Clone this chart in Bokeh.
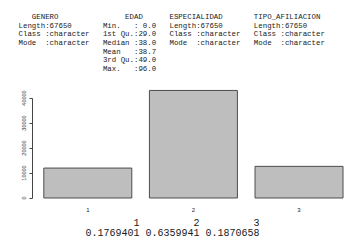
from bokeh.plotting import figure
from bokeh.models import Label, FixedTicker, Range1d, LinearAxis
from bokeh.embed import file_html
from bokeh.resources import INLINE
from bokeh.core.properties import value

# ---------------- data ----------------
categories = ["1", "2", "3"]
counts = [11970, 43025, 12655]
n_total = 67650
columns = ["GENERO", "EDAD", "ESPECIALIDAD", "TIPO_AFILIACION"]
char_labels = ["Length", "Class", "Mode"]
char_values = [str(n_total), "character", "character"]
edad_labels = ["Min.", "1st Qu.", "Median", "Mean", "3rd Qu.", "Max."]
edad_values = [0.0, 29.0, 38.0, 38.7, 49.0, 96.0]
y_ticks = [0, 10000, 20000, 30000, 40000]

# ---------------- layout constants ----------------
W, H = 353, 243
MONO = "Liberation Mono"
SANS = "Liberation Sans"

p = figure(width=W, height=H, output_backend="svg", toolbar_location=None,
           x_range=Range1d(-0.292, 3.719), y_range=Range1d(-18200, 79000),
           x_axis_location=None, y_axis_location=None, min_border=0)
p.grid.visible = False
p.outline_line_color = None
p.background_fill_color = "white"
p.border_fill_color = "white"

ax = LinearAxis(fixed_location=0.0716)
ax.ticker = FixedTicker(ticks=y_ticks)
ax.bounds = (y_ticks[0], y_ticks[-1])
ax.major_label_orientation = "parallel"
ax.major_label_text_font = SANS
ax.major_label_text_font_size = "5.5px"
ax.major_label_text_color = "#333333"
ax.major_label_standoff = 3
ax.major_tick_in = 0
ax.major_tick_out = 3
ax.minor_tick_line_color = None
ax.axis_line_color = "#444444"
ax.major_tick_line_color = "#444444"
p.add_layout(ax, "left")

centers = [0.7 + 1.2 * i for i in range(len(counts))]
p.vbar(x=centers, top=counts, bottom=0, width=1.0,
       fill_color="#bebebe", line_color="#4d4d4d", line_width=1)

p.text(x=centers, y=[0] * len(centers), text=categories, y_offset=12,
       text_align="center", text_baseline="middle",
       text_font=value(SANS), text_font_size="6px", text_color="#222222")


def put(text, px, py, size, align="left", font=MONO, color="#1a1a1a"):
    p.add_layout(Label(x=px, y=H - py, x_units="screen", y_units="screen", text=text,
                       text_font=font, text_font_size=size, text_color=color,
                       text_align=align, text_baseline="middle"))


# ---------------- summary table (top) ----------------
cw = 4.44
x0 = 13.6
y0 = 16.7
lh = 8.6
fs = "7.4px"
header_cols = [4, 25, 35, 54]
body_cols = [1, 20, 35, 54]
for name, c in zip(columns, header_cols):
    put(name, x0 + c * cw, y0, fs)
for ci, c in enumerate(body_cols):
    if columns[ci] == "EDAD":
        for r, (lab, v) in enumerate(zip(edad_labels, edad_values)):
            put(lab, x0 + c * cw, y0 + (r + 1) * lh, fs)
            put(":" + ("%4.1f" % v), x0 + (c + 7) * cw, y0 + (r + 1) * lh, fs)
    else:
        for r, (lab, v) in enumerate(zip(char_labels, char_values)):
            put(lab, x0 + c * cw, y0 + (r + 1) * lh, fs)
            put(":" + v, x0 + (c + 6) * cw, y0 + (r + 1) * lh, fs)

# ---------------- proportions (bottom) ----------------
bw = 6.0
bx0 = 85
props = ["%.7f" % (c / n_total) for c in counts]
for i, (cat, pr) in enumerate(zip(categories, props)):
    start = bx0 + i * 10 * bw
    put(pr, start, 232, "10px")
    put(cat, start + 9 * bw, 222, "10px", align="right")

open("out.html", "w").write(file_html(p, INLINE))
